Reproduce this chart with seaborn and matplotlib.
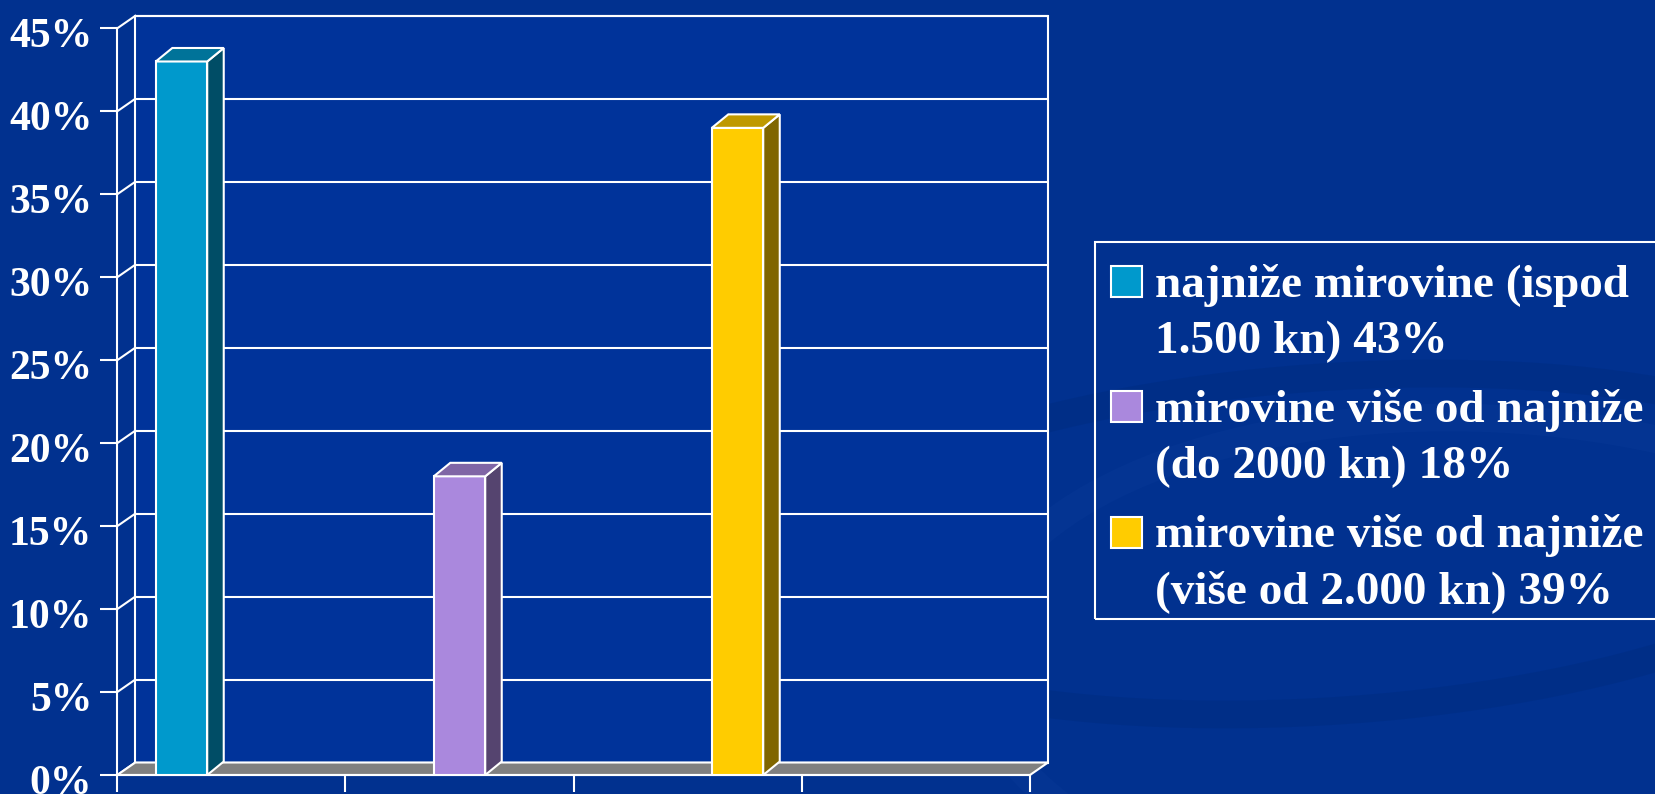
import numpy as np
import pandas as pd
import seaborn as sns
import matplotlib.pyplot as plt
from matplotlib.patches import Polygon, Rectangle, Ellipse
from matplotlib.transforms import offset_copy, IdentityTransform, ScaledTranslation

# data
categories = ['najniže mirovine (ispod 1.500 kn) 43%',
              'mirovine više od najniže (do 2000 kn) 18%',
              'mirovine više od najniže (više od 2.000 kn) 39%']
values = [43, 18, 39]
legend_lines = [['najniže mirovine (ispod', '1.500 kn) 43%'],
                ['mirovine više od najniže', '(do 2000 kn) 18%'],
                ['mirovine više od najniže', '(više od 2.000 kn) 39%']]
y_ticks = [0, 5, 10, 15, 20, 25, 30, 35, 40, 45]
y_labels = ['0%', '5%', '10%', '15%', '20%', '25%', '30%', '35%', '40%', '45%']

front_colors = ['#0099CC', '#AA88DD', '#FFCC00']
BG = '#01318F'
WALL = '#00339A'
FLOOR = '#808080'
FONT = 'Liberation Serif'
W, H = 1655, 794
XMIN, XMAX = -0.231, 3.052
WALL_DX, WALL_DY = 18, 12.5
BAR_DX, BAR_DY = 16.5, 13.5


def shade(c, f):
    r, g, b = [int(c[i:i + 2], 16) for i in (1, 3, 5)]
    return (r * f / 255, g * f / 255, b * f / 255)


fig = plt.figure(figsize=(W / 100, H / 100), dpi=100, facecolor=BG)

# faint template swirl in the background
for (cx, cy, ew, eh, ang, col, a) in [(1330, 250, 1100, 330, 12, '#00256E', 0.22),
                                      (1480, 120, 1000, 520, 25, '#1A4BAA', 0.12)]:
    fig.add_artist(Ellipse((cx / W, cy / H), ew / W, eh / H, angle=ang, fill=False,
                           lw=20, edgecolor=col, alpha=a, transform=fig.transFigure, zorder=0))

ax = fig.add_axes([117.3 / W, (H - 775) / H, 912.7 / W, (775 - 28.3) / H])
ax.set_facecolor('none')

df = pd.DataFrame({'cat': categories, 'value': values})
sns.barplot(data=df, x='cat', y='value', hue='cat', palette=front_colors, width=0.185,
            saturation=1, edgecolor='white', linewidth=1.5, legend=False, ax=ax, zorder=5)

ax.set_xlim(XMIN, XMAX)
ax.set_ylim(0, 45)

back = offset_copy(ax.transData, fig=fig, x=WALL_DX, y=WALL_DY, units='dots')
ax.add_patch(Rectangle((XMIN, 0), XMAX - XMIN, 45, transform=back, facecolor=WALL,
                       edgecolor='white', lw=1.5, zorder=0.5, clip_on=False))
ax.hlines(y_ticks, XMIN, XMAX, transform=back, colors='white', lw=1.5, zorder=1, clip_on=False)

# left wall diagonals
for v in y_ticks:
    x0, y0 = ax.transData.transform((XMIN, v))
    ax.plot([x0, x0 + WALL_DX], [y0, y0 + WALL_DY], color='white', lw=1.5,
            transform=IdentityTransform(), zorder=1, clip_on=False)

# floor
fl, fb = ax.transData.transform((XMIN, 0))
fr, _ = ax.transData.transform((XMAX, 0))
ax.add_patch(Polygon([(fl, fb), (fr, fb), (fr + WALL_DX, fb + WALL_DY), (fl + WALL_DX, fb + WALL_DY)],
                     closed=True, facecolor=FLOOR, edgecolor='white', lw=1.5,
                     transform=IdentityTransform(), zorder=2, clip_on=False))

# 3d sides and tops of the bars
bars = [q for q in ax.patches if isinstance(q, Rectangle) and q.get_height() > 0 and q.get_width() < 1]
for p, c in zip(bars, front_colors):
    xl, yb = ax.transData.transform((p.get_x(), 0))
    xr, yt = ax.transData.transform((p.get_x() + p.get_width(), p.get_height()))
    ax.add_patch(Polygon([(xr, yb), (xr + BAR_DX, yb + BAR_DY), (xr + BAR_DX, yt + BAR_DY), (xr, yt)],
                         closed=True, facecolor=shade(c, 0.5), edgecolor='white', lw=1.5,
                         transform=IdentityTransform(), zorder=5, clip_on=False))
    ax.add_patch(Polygon([(xl, yt), (xr, yt), (xr + BAR_DX, yt + BAR_DY), (xl + BAR_DX, yt + BAR_DY)],
                         closed=True, facecolor=shade(c, 0.75), edgecolor='white', lw=1.5,
                         transform=IdentityTransform(), zorder=5, clip_on=False))

for s in ['top', 'right']:
    ax.spines[s].set_visible(False)
for s in ['left', 'bottom']:
    ax.spines[s].set_color('white')
    ax.spines[s].set_linewidth(1.5)
    ax.spines[s].set_zorder(3)

ax.set_yticks(y_ticks, y_labels)
ax.set_xticks(np.linspace(XMIN, XMAX, 5), [''] * 5)
ax.tick_params(axis='both', colors='white', length=12, width=1.5, direction='out')
ax.tick_params(axis='y', pad=6, labelsize=30)
ax.set_xlabel('')
ax.set_ylabel('')
for lab in ax.get_yticklabels():
    lab.set_fontfamily(FONT)
    lab.set_fontweight('bold')
    lab.set_transform(lab.get_transform() + ScaledTranslation(0, -4 / 100, fig.dpi_scale_trans))

# legend box
fig.add_artist(Rectangle((1095 / W, (H - 619) / H), 700 / W, 377 / H, transform=fig.transFigure,
                         facecolor='none', edgecolor='white', lw=1.5))
mark_tops = [266, 391, 517]
baselines = [(297, 353), (422, 478), (547, 603)]
for c, top, lines, bl in zip(front_colors, mark_tops, legend_lines, baselines):
    fig.add_artist(Rectangle((1111 / W, (H - top - 31) / H), 31 / W, 31 / H, transform=fig.transFigure,
                             facecolor=c, edgecolor='white', lw=1.5))
    for txt, b in zip(lines, bl):
        fig.text(1155 / W, (H - b) / H, txt, color='white', fontsize=34, fontfamily=FONT,
                 fontweight='bold', va='baseline', ha='left')

fig.savefig('out.png', dpi=100, facecolor=BG)
